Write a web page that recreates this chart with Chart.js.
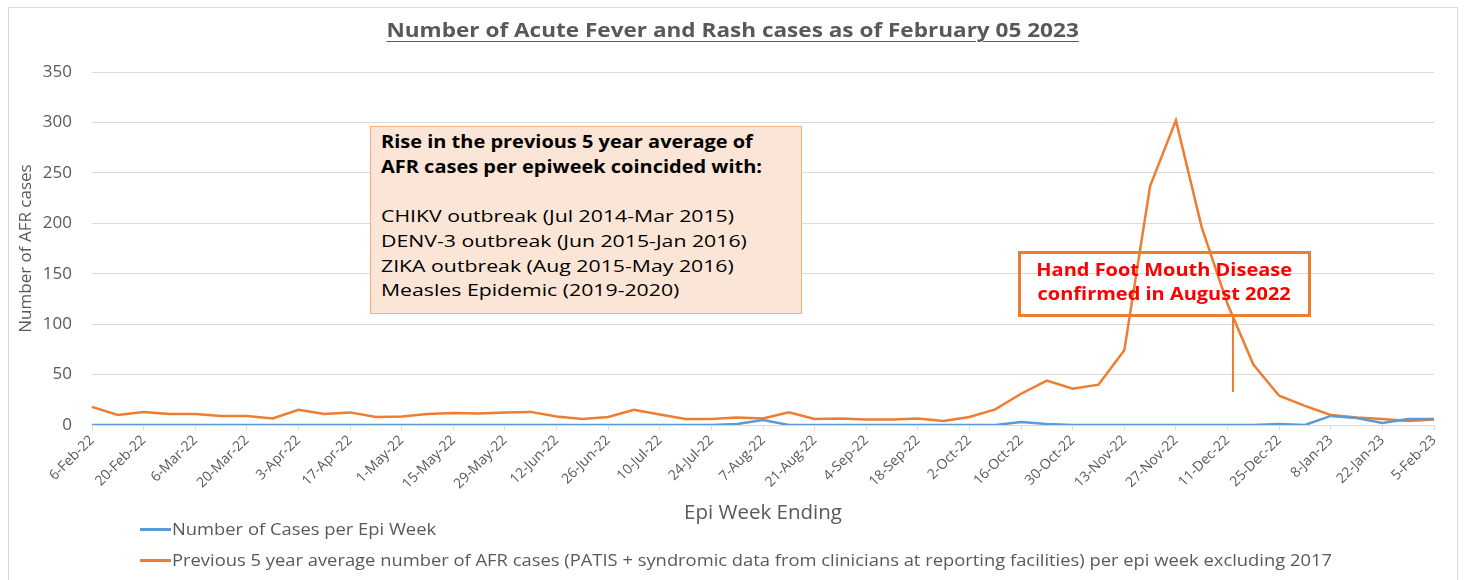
<!DOCTYPE html>
<html>
<head>
<meta charset="utf-8">
<script src="https://cdn.jsdelivr.net/npm/chart.js@4.4.0/dist/chart.umd.min.js"></script>
<style>
html,body{margin:0;padding:0;background:#fff;}
#wrap{position:relative;width:1465px;height:580px;overflow:hidden;font-family:'Open Sans',sans-serif;}
#frame{position:absolute;left:8px;top:7px;width:1450px;height:620px;border:1px solid #d9d9d9;box-sizing:border-box;}
#chart{position:absolute;left:0;top:0;}
#title{position:absolute;left:0;top:17px;width:1465px;text-align:center;font-weight:bold;font-size:19px;line-height:26px;color:#595959;}
#title span{display:inline-block;text-decoration:underline;text-underline-offset:4px;transform:scaleX(1.187);transform-origin:center;}
#note1{position:absolute;left:370px;top:126px;width:432px;height:188px;box-sizing:border-box;background:#FBE5D6;border:1px solid #F4B183;padding:3px 10px;font-size:17px;line-height:24.7px;color:#000;white-space:nowrap;}
#note1 .hd{display:inline-block;font-weight:bold;transform:scaleX(1.175);transform-origin:left;}
#note1 .bd{display:inline-block;transform:scaleX(1.25);transform-origin:left;}
#note2{position:absolute;left:1018px;top:251px;width:293px;height:66px;box-sizing:border-box;border:3px solid #ED7D31;padding:3px 0;font-size:18px;line-height:24px;color:#FF0000;font-weight:bold;text-align:center;white-space:nowrap;}
#note2 span{display:inline-block;transform:scaleX(1.11);transform-origin:center;}
#pointer{position:absolute;left:1232px;top:317px;width:2px;height:75px;background:#ED7D31;}
#legend{position:absolute;left:140px;top:0;font-size:17px;color:#595959;}
.li{position:absolute;left:0;white-space:nowrap;height:24px;line-height:24px;}
.li i{position:absolute;left:0;top:11px;width:31px;height:3px;}
.li span{position:absolute;left:32px;top:0;transform:scaleX(1.08);transform-origin:left;}
</style>
</head>
<body>
<div id="wrap">
  <div id="frame"></div>
  <canvas id="chart" width="1465" height="580"></canvas>
  <div id="title"><span>Number of Acute Fever and Rash cases as of February 05 2023</span></div>
  <div id="note1"><span class="hd">Rise in the previous 5 year average of<br>AFR cases per epiweek coincided with:</span><br><br><span class="bd">CHIKV outbreak (Jul 2014-Mar 2015)<br>DENV-3 outbreak (Jun 2015-Jan 2016)<br>ZIKA outbreak (Aug 2015-May 2016)<br>Measles Epidemic (2019-2020)</span></div>
  <div id="note2"><span>Hand Foot Mouth Disease<br>confirmed in August 2022</span></div>
  <div id="pointer"></div>
  <div id="legend"></div>
</div>
<script>
const weeks = ['6-Feb-22','13-Feb-22','20-Feb-22','27-Feb-22','6-Mar-22','13-Mar-22','20-Mar-22','27-Mar-22',
  '3-Apr-22','10-Apr-22','17-Apr-22','24-Apr-22','1-May-22','8-May-22','15-May-22','22-May-22','29-May-22',
  '5-Jun-22','12-Jun-22','19-Jun-22','26-Jun-22','3-Jul-22','10-Jul-22','17-Jul-22','24-Jul-22','31-Jul-22',
  '7-Aug-22','14-Aug-22','21-Aug-22','28-Aug-22','4-Sep-22','11-Sep-22','18-Sep-22','25-Sep-22',
  '2-Oct-22','9-Oct-22','16-Oct-22','23-Oct-22','30-Oct-22','6-Nov-22','13-Nov-22','20-Nov-22','27-Nov-22',
  '4-Dec-22','11-Dec-22','18-Dec-22','25-Dec-22','1-Jan-23','8-Jan-23','15-Jan-23','22-Jan-23','29-Jan-23','5-Feb-23'];

const casesPerWeek = [0,0,0,0,0,0,0,0,
  0,0,0,0,0,0,0,0,0,
  0,0,0,0,0,0,0,0,1,
  5,0,0,0,0,0,0,0,
  0,0,3,1,0,0,0,0,0,
  0,0,0,1,0,9,7,2,6,6];

const prev5yrAvg = [18,10,13,11,11,9,9,6.5,
  15,11,12.5,8,8.5,11,12,11.5,12.5,
  13,8.5,6,8,15,10.5,6,6,7.5,
  6.5,12.5,6,6.5,5.5,5.5,6.5,4,
  8,15.5,31,44,36,40,74,237,302,
  196,120,60,29,19,10,7.5,6,4,5.5];

const yTicks = [0,50,100,150,200,250,300,350];

const seriesNames = ['Number of Cases per Epi Week',
  'Previous 5 year average number of AFR cases (PATIS + syndromic data from clinicians at reporting facilities) per epi week excluding 2017'];
const seriesColors = ['#5B9BD5','#ED7D31'];

const GRID = '#d9d9d9';
const TXT = '#595959';
const FONT = "'Open Sans', sans-serif";

const chart = new Chart(document.getElementById('chart'), {
  type: 'line',
  data: {
    labels: weeks,
    datasets: [
      {label: seriesNames[0], data: casesPerWeek, borderColor: seriesColors[0], backgroundColor: seriesColors[0],
       borderWidth: 2.5, pointRadius: 0, tension: 0, fill: false},
      {label: seriesNames[1], data: prev5yrAvg, borderColor: seriesColors[1], backgroundColor: seriesColors[1],
       borderWidth: 2.5, pointRadius: 0, tension: 0, fill: false}
    ]
  },
  options: {
    responsive: false,
    animation: false,
    layout: {padding: {left: 8, top: 72, right: 31, bottom: 55}},
    plugins: {
      legend: {display: false},
      title: {display: false},
      tooltip: {enabled: false}
    },
    scales: {
      x: {
        offset: false,
        grid: {drawOnChartArea: false, drawTicks: true, tickLength: 5,
               tickColor: c => (c.index % 2 === 0 ? GRID : 'rgba(0,0,0,0)'), color: GRID},
        border: {color: GRID, width: 1},
        ticks: {autoSkip: false, minRotation: 45, maxRotation: 45, padding: 2,
                color: TXT, font: {family: FONT, size: 14},
                callback: function(v, i) { return i % 2 === 0 ? this.getLabelForValue(v) : ''; }},
        title: {display: true, text: 'Epi Week Ending', color: TXT, font: {family: FONT, size: 20.5},
                padding: {top: 0, bottom: 0}},
        afterFit: s => { s.height = 100; }
      },
      y: {
        min: 0, max: 350,
        afterBuildTicks: s => { s.ticks = yTicks.map(v => ({value: v})); },
        grid: {color: GRID, drawTicks: false, lineWidth: 1},
        border: {display: false},
        ticks: {padding: 20, color: TXT, font: {family: FONT, size: 17}},
        title: {display: true, text: 'Number of AFR cases', color: TXT, font: {family: FONT, size: 17},
                padding: {top: 8, bottom: 0}},
        afterFit: s => { s.width = 84; }
      }
    }
  }
});

// HTML legend built from the chart's datasets
const legend = document.getElementById('legend');
const rowTops = [517, 548];
chart.data.datasets.forEach((ds, i) => {
  const row = document.createElement('div');
  row.className = 'li';
  row.style.top = rowTops[i] + 'px';
  const mark = document.createElement('i');
  mark.style.background = ds.borderColor;
  const txt = document.createElement('span');
  txt.textContent = ds.label;
  row.appendChild(mark); row.appendChild(txt);
  legend.appendChild(row);
});
</script>
</body>
</html>
